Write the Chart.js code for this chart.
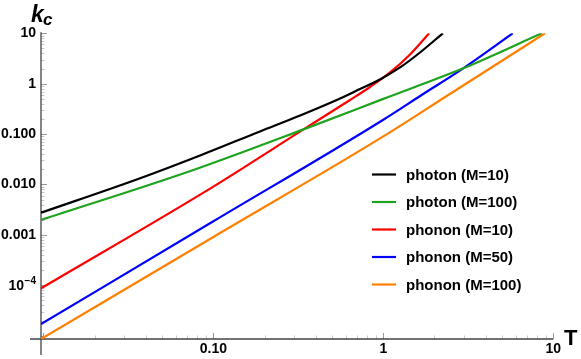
<!DOCTYPE html>
<html>
<head>
<meta charset="utf-8">
<script src="https://cdn.jsdelivr.net/npm/chart.js@4.4.1/dist/chart.umd.min.js"></script>
<style>
    html, body { margin: 0; padding: 0; background: #fff; }
    #wrap { width: 581px; height: 359px; }
</style>
</head>
<body>
<div id="wrap"><canvas id="kcChart" width="581" height="359"></canvas></div>
<script>
// Series: T values and k_c values
const seriesLabels = ['photon (M=10)', 'photon (M=100)', 'phonon (M=10)', 'phonon (M=50)', 'phonon (M=100)'];
const seriesColors = ['#000000', '#1fa31f', '#ff0000', '#0000ff', '#ff8000'];

const tPhoton10 = [0.00968, 0.0371, 0.0835, 0.188, 0.324, 0.532, 0.729, 0.979, 1.254, 1.644, 2.24];
const kPhoton10 = [2.75e-3, 0.0133, 0.0376, 0.113, 0.234, 0.475, 0.785, 1.27, 2.10, 4.16, 10];

const tPhoton100 = [0.00968, 0.0763, 0.339, 1.0, 2.95, 8.55];
const kPhoton100 = [1.98e-3, 0.0194, 0.124, 0.50, 2.02, 10];

const tPhonon10 = [0.00968, 0.1, 0.339, 0.637, 0.835, 1.095, 1.436, 1.86];
const kPhonon10 = [8.7e-5, 9.1e-3, 0.124, 0.475, 0.86, 1.67, 3.80, 10];

const tPhonon50 = [0.00968, 0.1, 1.0, 1.68, 2.95, 5.77];
const kPhonon50 = [1.7e-5, 1.86e-3, 0.193, 0.597, 2.02, 10];

const tPhonon100 = [0.00968, 0.1, 1.0, 2.41, 5.82, 8.94];
const kPhonon100 = [8.6e-6, 9.1e-4, 0.090, 0.597, 3.97, 10];

// Tick labels ('10^-4' is drawn with a real superscript by the plugin)
const xTickValues = [0.1, 1, 10];
const xTickLabels = ['0.10', '1', '10'];
const yTickValues = [1e-4, 0.001, 0.01, 0.1, 1, 10];
const yTickLabels = ['10^\u22124', '0.001', '0.010', '0.100', '1', '10'];

const FONT = "'Liberation Sans', Arial, sans-serif";

function toPoints(ts, ks) {
    return ts.map((t, i) => ({ x: t, y: ks[i] }));
}

const allSeries = [
    toPoints(tPhoton10, kPhoton10),
    toPoints(tPhoton100, kPhoton100),
    toPoints(tPhonon10, kPhonon10),
    toPoints(tPhonon50, kPhonon50),
    toPoints(tPhonon100, kPhonon100)
];

function labelFor(values, labels, v) {
    const i = values.findIndex(t => Math.abs(Math.log10(t) - Math.log10(v)) < 1e-6);
    if (i < 0 || labels[i].includes('^')) return '';
    return labels[i];
}

// Mathematica style axes: ticks inside, lines crossing at the corner
const axesPlugin = {
    id: 'axesPlugin',
    beforeDatasetsDraw(chart) {
        const { ctx, chartArea: a, scales: { x, y } } = chart;
        ctx.save();
        ctx.lineWidth = 1;
        for (let e = -6; e <= 1; e++) {
            for (let m = 1; m <= 9; m++) {
                const v = m * Math.pow(10, e);
                if (v >= y.min * 0.9999 && v <= y.max * 1.0001) {
                    const py = Math.round(y.getPixelForValue(v)) + 0.5;
                    ctx.strokeStyle = m === 1 ? '#999' : '#c8c8c8';
                    ctx.beginPath();
                    ctx.moveTo(a.left, py);
                    ctx.lineTo(a.left + (m === 1 ? 6 : 3.5), py);
                    ctx.stroke();
                }
                if (v >= x.min * 0.9999 && v <= x.max * 1.0001) {
                    const px = Math.round(x.getPixelForValue(v)) + 0.5;
                    ctx.strokeStyle = m === 1 ? '#999' : '#c8c8c8';
                    ctx.beginPath();
                    ctx.moveTo(px, a.bottom);
                    ctx.lineTo(px, a.bottom - (m === 1 ? 6 : 3.5));
                    ctx.stroke();
                }
            }
        }
        ctx.strokeStyle = '#444';
        ctx.lineWidth = 1.3;
        ctx.beginPath();
        ctx.moveTo(a.left - 11, a.bottom);
        ctx.lineTo(a.right, a.bottom);
        ctx.moveTo(a.left, a.top - 1);
        ctx.lineTo(a.left, a.bottom + 16);
        ctx.stroke();
        ctx.restore();
    },
    afterDraw(chart) {
        const { ctx, scales: { y } } = chart;
        ctx.save();
        ctx.fillStyle = '#000';
        ctx.textBaseline = 'alphabetic';

        // power-of-ten tick labels with superscript
        yTickValues.forEach((v, i) => {
            const lbl = yTickLabels[i];
            if (!lbl.includes('^')) return;
            const [base, expo] = lbl.split('^');
            const py = y.getPixelForValue(v);
            ctx.textAlign = 'right';
            ctx.font = 'bold 10px ' + FONT;
            ctx.fillText(expo, 36, py - 1.5);
            const w = ctx.measureText(expo).width;
            ctx.font = 'bold 14px ' + FONT;
            ctx.fillText(base, 36 - w - 0.5, py + 5);
        });

        // axis titles
        ctx.textAlign = 'left';
        ctx.font = 'italic bold 23px ' + FONT;
        ctx.fillText('k', 31, 22);
        ctx.font = 'italic bold 17px ' + FONT;
        ctx.fillText('c', 43, 25);
        ctx.font = 'bold 22px ' + FONT;
        ctx.fillText('T', 564, 345);

        // legend
        ctx.font = 'bold 15px ' + FONT;
        ctx.textBaseline = 'middle';
        chart.data.datasets.forEach((ds, i) => {
            const cy = 174.5 + i * 27.5;
            ctx.strokeStyle = ds.borderColor;
            ctx.lineWidth = 2.2;
            ctx.beginPath();
            ctx.moveTo(372, cy);
            ctx.lineTo(396, cy);
            ctx.stroke();
            ctx.fillText(ds.label, 406, cy + 1);
        });
        ctx.restore();
    }
};

new Chart(document.getElementById('kcChart'), {
    type: 'scatter',
    data: {
        datasets: allSeries.map((pts, i) => ({
            label: seriesLabels[i],
            data: pts,
            showLine: true,
            borderColor: seriesColors[i],
            backgroundColor: seriesColors[i],
            borderWidth: 2.2,
            pointRadius: 0,
            cubicInterpolationMode: 'monotone'
        }))
    },
    options: {
        responsive: false,
        animation: false,
        layout: { padding: { left: 0, right: 27.7, top: 33.3, bottom: 0 } },
        plugins: { legend: { display: false }, tooltip: { enabled: false } },
        scales: {
            x: {
                type: 'logarithmic',
                min: 0.00968,
                max: 10,
                grid: { display: false, drawTicks: false },
                border: { display: false },
                afterBuildTicks: scale => { scale.ticks = xTickValues.map(v => ({ value: v })); },
                afterFit: scale => { scale.height = 20; },
                ticks: {
                    autoSkip: false,
                    maxRotation: 0,
                    padding: 2,
                    color: '#000',
                    font: { family: FONT, size: 14, weight: 'bold' },
                    callback: v => labelFor(xTickValues, xTickLabels, v)
                }
            },
            y: {
                type: 'logarithmic',
                min: 8.6e-6,
                max: 10,
                grid: { display: false, drawTicks: false },
                border: { display: false },
                afterBuildTicks: scale => { scale.ticks = yTickValues.map(v => ({ value: v })); },
                afterFit: scale => { scale.width = 41; },
                ticks: {
                    autoSkip: false,
                    padding: 5,
                    color: '#000',
                    font: { family: FONT, size: 14, weight: 'bold' },
                    callback: v => labelFor(yTickValues, yTickLabels, v)
                }
            }
        }
    },
    plugins: [axesPlugin]
});
</script>
</body>
</html>
